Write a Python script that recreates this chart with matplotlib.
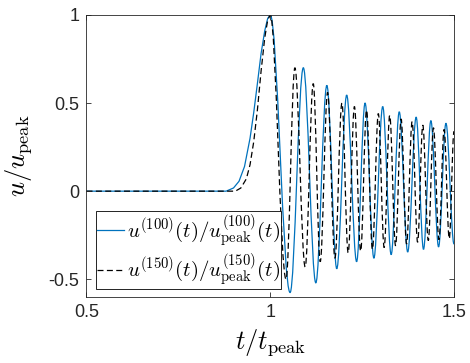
import matplotlib
matplotlib.use("Agg")
import matplotlib.pyplot as plt
from matplotlib.path import Path
from matplotlib.patches import PathPatch
from matplotlib.lines import Line2D

plt.rcParams["mathtext.fontset"] = "cm"
plt.rcParams["font.family"] = ["Liberation Sans", "DejaVu Sans"]

blue_rise_t = [0.5, 0.88, 0.90, 0.915, 0.93, 0.945, 0.955, 0.965, 0.975, 0.985, 0.993, 1.0]
blue_rise_u = [0.0, 0.0, 0.018, 0.056, 0.14, 0.30, 0.445, 0.61, 0.78, 0.91, 0.98, 1.0]
black_rise_t = [0.5, 0.905, 0.92, 0.935, 0.945, 0.955, 0.965, 0.975, 0.985, 0.993, 1.0]
black_rise_u = [0.0, 0.0, 0.018, 0.07, 0.15, 0.28, 0.46, 0.68, 0.87, 0.97, 1.0]

# troughs and peaks after t = t_peak
blue_ext_t = [1.054, 1.090, 1.124, 1.154, 1.181, 1.208, 1.235, 1.258, 1.282, 1.306,
              1.329, 1.351, 1.374, 1.397, 1.417, 1.437, 1.458, 1.478, 1.50]
blue_ext_u = [-0.575, 0.70, -0.52, 0.60, -0.44, 0.545, -0.40, 0.50, -0.38, 0.48,
              -0.36, 0.45, -0.345, 0.42, -0.33, 0.40, -0.316, 0.385, -0.30]
black_ext_t = [1.043, 1.067, 1.095, 1.117, 1.136, 1.156, 1.176, 1.195, 1.212, 1.229,
               1.246, 1.262, 1.278, 1.294, 1.310, 1.325, 1.341, 1.356, 1.371, 1.386,
               1.401, 1.415, 1.430, 1.444, 1.459, 1.473, 1.487, 1.50]
black_ext_u = [-0.50, 0.70, -0.43, 0.61, -0.40, 0.56, -0.38, 0.50, -0.35, 0.48,
               -0.34, 0.46, -0.33, 0.44, -0.32, 0.43, -0.31, 0.41, -0.30, 0.395,
               -0.29, 0.375, -0.28, 0.36, -0.275, 0.35, -0.27, 0.34]

labels = [r"$u^{(100)}(t)/u^{(100)}_{\rm peak}(t)$",
          r"$u^{(150)}(t)/u^{(150)}_{\rm peak}(t)$"]
xticks = [0.5, 1, 1.5]
xticklabels = ["0.5", "1", "1.5"]
yticks = [-0.5, 0, 0.5, 1]
yticklabels = ["-0.5", "0", "0.5", "1"]

blue = "#0072BD"
dash = (0, (4.8, 2.7))


def wave_path(rise_t, rise_u, ext_t, ext_u):
    verts = list(zip(rise_t, rise_u))
    codes = [Path.MOVETO] + [Path.LINETO] * (len(rise_t) - 1)
    t0, u0 = rise_t[-1], rise_u[-1]
    # flat tangent at every peak / trough
    for t1, u1 in zip(ext_t, ext_u):
        d = 0.36 * (t1 - t0)
        verts += [(t0 + d, u0), (t1 - d, u1), (t1, u1)]
        codes += [Path.CURVE4] * 3
        t0, u0 = t1, u1
    return Path(verts, codes)


fig = plt.figure(figsize=(4.7, 3.63), dpi=100)
ax = fig.add_axes([0.184, 0.182, 0.782, 0.777])

ax.add_patch(PathPatch(wave_path(blue_rise_t, blue_rise_u, blue_ext_t, blue_ext_u),
                       fill=False, edgecolor=blue, lw=0.9))
ax.add_patch(PathPatch(wave_path(black_rise_t, black_rise_u, black_ext_t, black_ext_u),
                       fill=False, edgecolor="k", lw=0.9, linestyle=dash))

ax.set_xlim(0.5, 1.5)
ax.set_ylim(-0.6, 1)
ax.set_xticks(xticks)
ax.set_xticklabels(xticklabels)
ax.set_yticks(yticks)
ax.set_yticklabels(yticklabels)
ax.tick_params(direction="in", length=3.6, width=0.6, top=True, right=True,
               labelsize=13, colors="#262626", pad=5)
for s in ax.spines.values():
    s.set_color("#262626")
    s.set_linewidth(0.6)

ax.set_xlabel(r"$t/t_{\rm peak}$", fontsize=19, va="center")
ax.set_ylabel(r"$u/u_{\rm peak}$", fontsize=19, va="center")
ax.xaxis.set_label_coords(0.5, -0.16)
ax.yaxis.set_label_coords(-0.185, 0.5)

handles = [Line2D([], [], color=blue, lw=0.9),
           Line2D([], [], color="k", lw=0.9, linestyle=dash)]
leg = ax.legend(handles, labels, loc="lower left", bbox_to_anchor=(0.026, 0.028),
                borderaxespad=0, fontsize=15, fancybox=False, framealpha=1,
                edgecolor="k", handlelength=1.3, handletextpad=0.12,
                borderpad=0.05, labelspacing=0.12)
leg.get_frame().set_linewidth(0.6)

fig.savefig("out.png", dpi=100)
